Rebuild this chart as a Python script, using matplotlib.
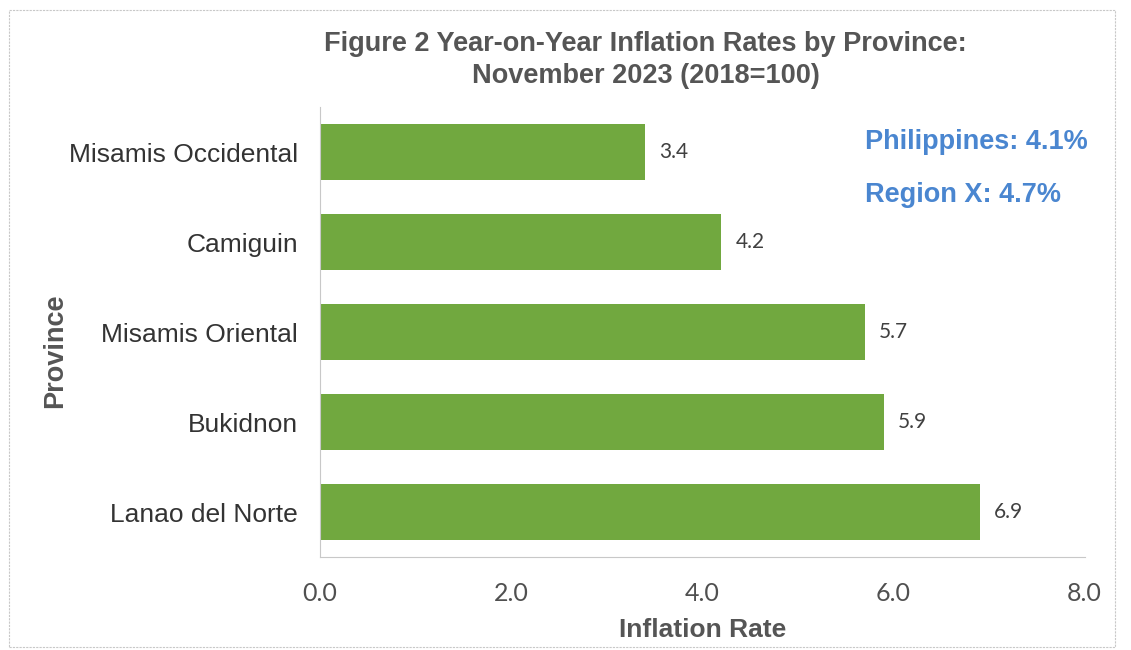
import matplotlib
matplotlib.use("Agg")
import matplotlib.pyplot as plt
from matplotlib.patches import Rectangle

provinces = ["Misamis Occidental", "Camiguin", "Misamis Oriental", "Bukidnon", "Lanao del Norte"]
rates = [3.4, 4.2, 5.7, 5.9, 6.9]
xticks = [0.0, 2.0, 4.0, 6.0, 8.0]
title = "Figure 2 Year-on-Year Inflation Rates by Province:\nNovember 2023 (2018=100)"
notes = ["Philippines: 4.1%", "Region X: 4.7%"]

fig = plt.figure(figsize=(11.31, 6.5), dpi=100)
ax = fig.add_axes([0.283, 0.143, 0.676, 0.692])

ypos = list(range(len(provinces)))[::-1]
ax.barh(ypos, rates, height=0.62, color="#71a83f")
for y, v in zip(ypos, rates):
    ax.text(v + 0.15, y, f"{v:.1f}", va="center", ha="left", fontsize=15,
            family="Lato", color="#404040")

ax.set_xlim(0, 8)
ax.set_ylim(-0.5, len(provinces) - 0.5)
ax.set_yticks(ypos)
ax.set_yticklabels(provinces, family="Liberation Sans", fontsize=19, color="#333333")
ax.set_xticks(xticks)
ax.set_xticklabels([f"{t:.1f}" for t in xticks], family="Lato", fontsize=18, color="#505050")
ax.tick_params(axis="both", length=0)
ax.tick_params(axis="x", pad=18)
ax.tick_params(axis="y", pad=16)
for s in ["top", "right"]:
    ax.spines[s].set_visible(False)
for s in ["left", "bottom"]:
    ax.spines[s].set_color("#c8c8c8")
    ax.spines[s].set_linewidth(0.8)

ax.set_xlabel("Inflation Rate", family="Liberation Sans", fontweight="bold",
              fontsize=19, color="#555555", labelpad=9)
fig.text(0.049, 0.46, "Province", rotation=90, va="center", ha="center",
         family="Liberation Sans", fontweight="bold", fontsize=19.5, color="#555555")

fig.text(0.571, 0.908, title, ha="center", va="center", family="Liberation Sans",
         fontweight="bold", fontsize=19.5, color="#555555", linespacing=1.3)

fig.text(0.765, 0.782, notes[0], ha="left", va="center", family="Liberation Sans",
         fontweight="bold", fontsize=19.5, color="#4a86d0")
fig.text(0.765, 0.7, notes[1], ha="left", va="center", family="Liberation Sans",
         fontweight="bold", fontsize=19.5, color="#4a86d0")

fig.patches.append(Rectangle((0.008, 0.005), 0.978, 0.98, transform=fig.transFigure,
                             fill=False, edgecolor="#c8c8c8", linewidth=0.8,
                             linestyle=(0, (2, 1))))

fig.savefig("out.png", dpi=100)
